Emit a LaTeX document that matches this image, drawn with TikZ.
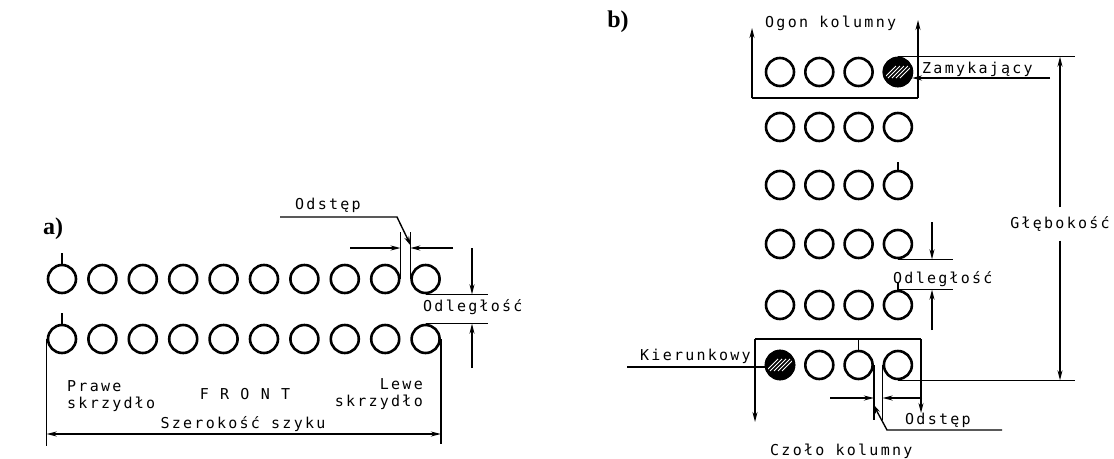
\documentclass[tikz,border=0pt]{standalone}
\usepackage{fontspec}
\setmainfont{Liberation Serif}
\newfontfamily\plotfont[LetterSpace=15]{DejaVu Sans Mono}
\usetikzlibrary{arrows.meta}
\begin{document}
\begin{tikzpicture}[x=1pt,y=-1pt,
  sol/.style={circle,draw,line width=2.6pt,minimum size=28pt,inner sep=0pt},
  hat/.style={sol,fill=black,path picture={
    \foreach \i in {-8,-4,0,4,8}{\draw[white,line width=0.9pt]
      ([shift={(\i-6,6)}]path picture bounding box.center) --
      ([shift={(\i+6,-6)}]path picture bounding box.center);}}},
  ln/.style={line width=1.4pt},
  arr/.style={ln,-{Stealth[length=10pt,width=5pt]}},
  dimarr/.style={ln,{Stealth[length=10pt,width=5pt]}-{Stealth[length=10pt,width=5pt]}},
  lbl/.style={font=\plotfont\fontsize{15}{17}\selectfont,inner sep=0pt},
  tag/.style={font=\bfseries\fontsize{24}{24}\selectfont,inner sep=0pt}]
\useasboundingbox (0,0) rectangle (1114,458);

% ---------- panel a ----------
\node[tag] (taga) at (53,229) {a)};
\foreach \c in {1,...,10}{
  \node[sol] (at\c) at ({62+40.4*(\c-1)},279) {};
  \node[sol] (ab\c) at ({62+40.4*(\c-1)},339) {};
}
\draw[ln] (at1.north) -- ++(0,-11);
\draw[ln] (ab1.north) -- ++(0,-11);
% width
\coordinate (wy) at (0,434);
\draw[ln] (ab1.west) -- ++(0,107);
\draw[ln] (ab10.east) -- ++(0,105);
\draw[dimarr] (ab1.west |- wy) -- (ab10.east |- wy);
\node[lbl,align=left,anchor=west] (prawe) at (67,396) {Prawe\\skrzydło};
\node[lbl] (front) at (245,394) {F R O N T};
\node[lbl,align=right,anchor=east] (lewe) at (423,394) {Lewe\\skrzydło};
\node[lbl] (szer) at (243,424) {Szerokość szyku};
% distance
\draw[ln] (at10.south) -- ++(62,0);
\draw[ln] (ab10.north) -- ++(62,0);
\coordinate (oa1) at (472,248);
\coordinate (oa2) at (472,368);
\draw[arr] (oa1) -- (oa1 |- at10.south);
\draw[arr] (oa2) -- (oa2 |- ab10.north);
\node[lbl,anchor=base west] (odla) at (423,311) {Odległość};
% interval
\draw[ln] (at9.east) -- ++(0,-47);
\draw[ln] (at10.west) -- ++(0,-47);
\coordinate (sa1) at (350,248);
\coordinate (sa2) at (453,248);
\draw[arr] (sa1) -- (sa1 -| at9.east);
\draw[arr] (sa2) -- (sa2 -| at10.west);
\coordinate (la1) at (280,217);
\coordinate (la2) at (397,217);
\coordinate (la3) at (411,246);
\draw[arr] (la1) -- (la2) -- (la3);
\node[lbl,anchor=base west] (odsa) at (295,209) {Odstęp};

% ---------- panel b ----------
\node[tag] (tagb) at (618,22) {b)};
\foreach \r/\y in {1/72,2/127,3/185,4/244,5/305,6/365}{
  \foreach \c in {1,...,4}{
    \node[sol] (b\r\c) at ({780+39.3*(\c-1)},\y) {};
  }
}
\node[hat] at (b14) {};
\node[hat] at (b61) {};
% tail box
\coordinate (tl) at (752,98);
\coordinate (tr) at (918,98);
\coordinate (tlt) at (752,28);
\coordinate (trt) at (918,20);
\draw[ln] (tl) -- (tr);
\draw[arr] (tl) -- (tlt);
\draw[arr] (tr) -- (trt);
\node[lbl,anchor=base west] (ogon) at (765,27) {Ogon kolumny};
% closing
\coordinate (z1) at (1050,78);
\coordinate (z2) at (912,78);
\draw[arr] (z1) -- (z2);
\node[lbl,anchor=base west] (zam) at (922,73) {Zamykający};
% depth
\draw[ln] (b14.north) -- ++(177,0);
\draw[ln] (b64.south) -- ++(177,0);
\node[lbl,inner ysep=9pt] (glb) at (1060,224) {Głębokość};
\draw[arr] (glb.north) -- (glb.north |- b14.north);
\draw[arr] (glb.south) -- (glb.south |- b64.south);
% distance
\draw[ln] (b34.north) -- ++(0,-8);
\draw[ln] (b54.north) -- ++(0,-8);
\draw[ln] (b44.south) -- ++(55,0);
\draw[ln] (b54.north) -- ++(55,0);
\coordinate (ob1) at (932,222);
\coordinate (ob2) at (932,330);
\draw[arr] (ob1) -- (ob1 |- b44.south);
\draw[arr] (ob2) -- (ob2 |- b54.north);
\node[lbl,anchor=base west] (odlb) at (893,283) {Odległość};
% head box
\coordinate (bl) at (755,339);
\coordinate (br) at (921,339);
\coordinate (blb) at (755,422);
\coordinate (brb) at (921,413);
\draw[ln] (bl) -- (br);
\draw[arr] (bl) -- (blb);
\draw[arr] (br) -- (brb);
\draw[ln] (b63.north) -- (b63.north |- bl);
% interval
\draw[ln] (b63.east) -- ++(0,55);
\draw[ln] (b64.west) -- ++(0,55);
\coordinate (sb1) at (830,398);
\coordinate (sb2) at (922,398);
\draw[arr] (sb1) -- (sb1 -| b63.east);
\draw[arr] (sb2) -- (sb2 -| b64.west);
\coordinate (lb1) at (1002,430);
\coordinate (lb2) at (887,430);
\coordinate (lb3) at (873,404);
\draw[arr] (lb1) -- (lb2) -- (lb3);
\node[lbl,anchor=base west] (odsb) at (905,424) {Odstęp};
% guide
\coordinate (k1) at (627,367);
\draw[ln] (k1) -- (k1 -| b61.west);
\node[lbl,anchor=base west] (kier) at (640,360) {Kierunkowy};
\node[lbl,anchor=base west] (czolo) at (770,455) {Czoło kolumny};
\end{tikzpicture}
\end{document}
